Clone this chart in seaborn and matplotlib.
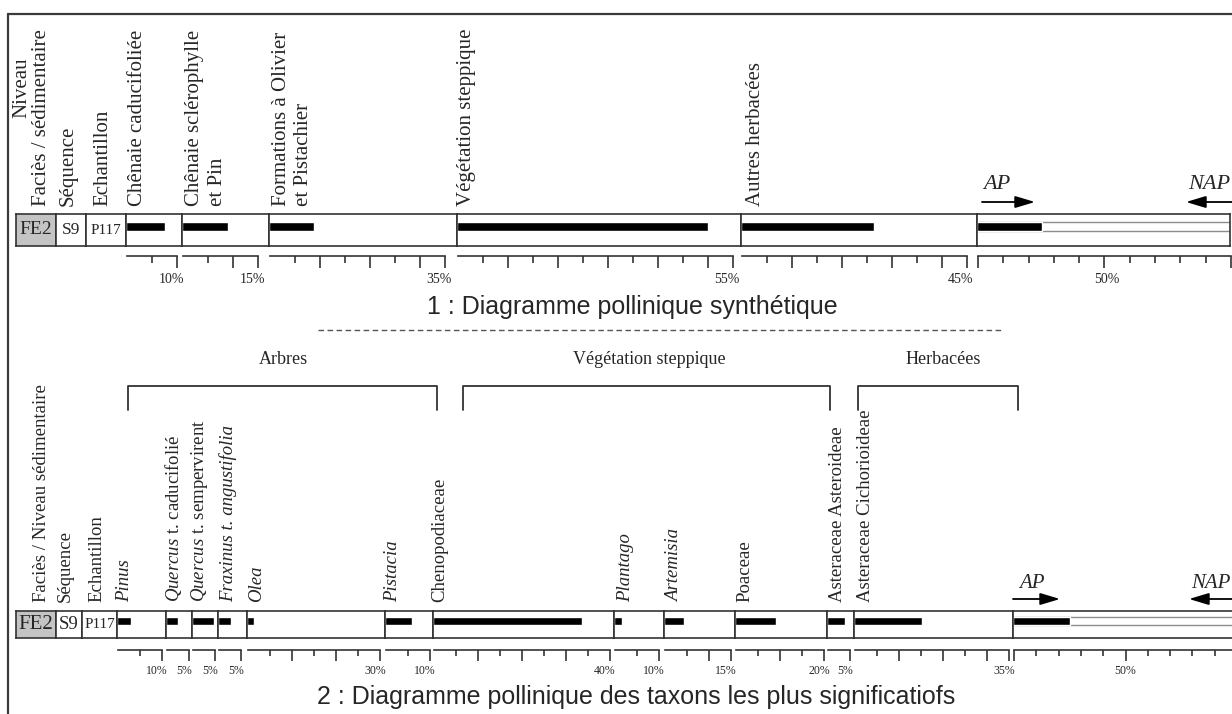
import numpy as np
import pandas as pd
import matplotlib
matplotlib.use("Agg")
import matplotlib.pyplot as plt
from matplotlib.lines import Line2D
from matplotlib.transforms import blended_transform_factory
import seaborn as sns

# ---------------- data ----------------
# 1 : synthetic pollen diagram (percentages)
synth_groups = ["Chênaie caducifoliée", "Chênaie sclérophylle\net Pin",
                "Formations à Olivier\net Pistachier", "Végétation steppique",
                "Autres herbacées"]
synth_values = [7.8, 9.2, 9.0, 50.2, 26.6]
synth_scale_max = [10, 15, 35, 55, 45]
synth_ap = 25.8

# 2 : most significant taxa (percentages)
taxa = ["Pinus", "Quercus t. caducifolié", "Quercus t. sempervirent",
        "Fraxinus t. angustifolia", "Olea", "Pistacia", "Chenopodiaceae",
        "Plantago", "Artemisia", "Poaceae", "Asteraceae Asteroideae",
        "Asteraceae Cichorioideae"]
taxa_values = [3.1, 2.7, 4.9, 3.0, 1.6, 6.1, 33.9, 1.8, 4.5, 9.3, 4.1, 15.5]
taxa_scale_max = [10, 5, 5, 5, 30, 10, 40, 10, 15, 20, 5, 35]
taxa_ap = 25.5

sample_cells = ["FE2", "S9", "P117"]
top_headers = ["Faciès / sédimentaire", "Séquence", "Echantillon"]
bottom_headers = ["Faciès / Niveau sédimentaire", "Séquence", "Echantillon"]
groups = ["Arbres", "Végétation steppique", "Herbacées"]

# ---------------- style ----------------
sns.set_theme(style="white")
plt.rcParams["font.family"] = ["Liberation Serif", "DejaVu Serif"]
plt.rcParams["mathtext.fontset"] = "custom"
plt.rcParams["mathtext.rm"] = "Liberation Serif"
plt.rcParams["mathtext.it"] = "Liberation Serif:italic"

LINE = "#333333"
W, H = 1232, 714
fig = plt.figure(figsize=(W / 100, H / 100), dpi=100)
fig.patch.set_facecolor("white")


def px_axes(x0, y0, x1, y1, z=2):
    ax = fig.add_axes([x0 / W, 1 - y1 / H, (x1 - x0) / W, (y1 - y0) / H])
    ax.set_zorder(z)
    return ax


base = px_axes(0, 0, W, H, z=0)
base.set_xlim(0, W)
base.set_ylim(H, 0)
base.axis("off")


def taxon_label(name):
    full_italic = {"Pinus", "Olea", "Pistacia", "Plantago", "Artemisia",
                   "Fraxinus t. angustifolia"}
    if name in full_italic:
        return name, "italic"
    if name.startswith("Quercus"):
        return r"$\mathit{Quercus}$" + name[len("Quercus"):], "normal"
    return name, "normal"


def cell(x0, x1, row, text, size, fc="white"):
    ax = px_axes(x0, row[0], x1, row[1])
    ax.set_facecolor(fc)
    ax.set_xticks([])
    ax.set_yticks([])
    for s in ax.spines.values():
        s.set_visible(True)
        s.set_color(LINE)
        s.set_linewidth(1.2)
    ax.text(0.5, 0.5, text, ha="center", va="center", fontsize=size,
            transform=ax.transAxes)


def bar_panel(x0, x1, row, vmax_axis, value, key, ylim, thick, total=None):
    ax = px_axes(x0, row[0], x1, row[1])
    if total is not None:
        sns.barplot(data=pd.DataFrame({"k": [key], "v": [total]}), x="v", y="k",
                    orient="h", color="white", edgecolor="#8c8c8c", linewidth=1.0,
                    width=thick, saturation=1, ax=ax)
    sns.barplot(data=pd.DataFrame({"k": [key], "v": [value]}), x="v", y="k",
                orient="h", color="black", width=thick, saturation=1, ax=ax)
    ax.set_xlim(0, vmax_axis)
    ax.set_ylim(*ylim)
    ax.set(xlabel="", ylabel="", xticks=[], yticks=[])
    ax.set_facecolor("white")
    for s in ax.spines.values():
        s.set_visible(True)
        s.set_color(LINE)
        s.set_linewidth(1.2)
    return ax


def ruler(x0, x1, y0, y1, vmax_axis, vmax, step, major_rule, label, label_at,
          label_dx_px, maj_len, min_len, fsize, start_tick=False):
    ax = px_axes(x0, y0, x1, y1)
    ax.set_xlim(0, vmax_axis)
    ax.set_ylim(0, 1)
    ax.patch.set_alpha(0)
    for s in ["left", "right", "bottom"]:
        ax.spines[s].set_visible(False)
    ax.spines["top"].set_visible(True)
    ax.spines["top"].set_color(LINE)
    ax.spines["top"].set_linewidth(1.2)
    ax.spines["top"].set_bounds(0, vmax)
    first = 0 if start_tick else step
    ticks = np.arange(first, vmax + step / 2, step)
    major = [t for t in ticks if major_rule(t) or np.isclose(t, vmax)]
    minor = [t for t in ticks if t not in major]
    ax.set_xticks(major)
    ax.set_xticks(minor, minor=True)
    ax.set_yticks([])
    ax.tick_params(axis="x", which="both", top=True, bottom=False,
                   labeltop=False, labelbottom=False, direction="in",
                   color=LINE, width=1.2)
    ax.tick_params(axis="x", which="major", length=maj_len)
    ax.tick_params(axis="x", which="minor", length=min_len)
    px_per_unit = (x1 - x0) / vmax_axis
    tr = blended_transform_factory(ax.transData, ax.transAxes)
    ax.text(label_at + label_dx_px / px_per_unit, 0, label, ha="center", va="top",
            fontsize=fsize, transform=tr)


def header(x, y, text, size, style="normal"):
    base.text(x, y, text, rotation=90, ha="center", va="bottom", fontsize=size,
              style=style)


# ---------------- frame ----------------
base.add_line(Line2D([8, W + 5], [14, 14], color="#3a3a3a", lw=1.6))
base.add_line(Line2D([8, 8], [14, H + 5], color="#3a3a3a", lw=1.6))

# ================= 1 : synthetic diagram =================
row1 = (214, 246)
cell_x1 = [16, 56, 86, 126]
cell_sizes1 = [14, 12.5, 11]
for i, t in enumerate(sample_cells):
    cell(cell_x1[i], cell_x1[i + 1], row1, t, cell_sizes1[i],
         "#c4c4c4" if i == 0 else "white")

header(22, 118, "Niveau", 15)
for x, t in zip([42, 68, 103], top_headers):
    header(x, 206, t, 15)

top_bounds = [126, 182, 269, 457, 741, 977]
top_label_x = [137, 195, 281, 467, 755]
s1 = 5.0  # px per percent
ylim1 = (0.61, -0.39)
for i, (g, v, m) in enumerate(zip(synth_groups, synth_values, synth_scale_max)):
    x0, x1 = top_bounds[i], top_bounds[i + 1]
    bar_panel(x0, x1, row1, (x1 - x0) / s1, v, g, ylim1, 0.28)
    ruler(x0 + 1, x1 + 1, 256, 273, (x1 - x0) / s1, m, 5,
          lambda t: t % 10 == 0, f"{m}%", m, -6, 8.6, 5.0, 10)
    for j, line in enumerate(g.split("\n")):
        header(top_label_x[i] + 23 * j, 206, line, 15)

# AP / NAP panel
bar_panel(977, 1230, row1, 100, synth_ap, "AP", ylim1, 0.28, total=100)
ruler(978, 1231, 256, 273, 100, 100, 10, lambda t: t % 50 == 0, "50%", 50, 2,
      8.6, 5.0, 10, start_tick=True)
base.text(997, 189, "AP", ha="center", va="baseline", fontsize=16, style="italic")
base.text(1230, 189, "NAP", ha="right", va="baseline", fontsize=16, style="italic")
arrow = dict(arrowstyle="-|>,head_length=1.0,head_width=0.3", color="black",
             lw=1.3, shrinkA=0, shrinkB=0)
base.annotate("", xy=(1035, 202), xytext=(982, 202), arrowprops=arrow,
              annotation_clip=False)
base.annotate("", xy=(1186, 202), xytext=(1245, 202), arrowprops=arrow,
              annotation_clip=False)

base.text(632, 307, "1 : Diagramme pollinique synthétique", ha="center",
          va="center", fontsize=18, family="Liberation Sans")
base.add_line(Line2D([318, 1002], [330, 330], color="#555555", lw=1.0,
                     dashes=(4, 2.5)))

# ================= 2 : taxa diagram =================
row2 = (611, 638)
cell_x2 = [16, 56, 82, 117]
cell_sizes2 = [15, 13.5, 11]
for i, t in enumerate(sample_cells):
    cell(cell_x2[i], cell_x2[i + 1], row2, t, cell_sizes2[i],
         "#c4c4c4" if i == 0 else "white")

for x, t in zip([42, 65, 97], bottom_headers):
    header(x, 602, t, 13.5)

# group brackets
bracket_spans = [(128, 437), (463, 830), (858, 1018)]
bracket_label_x = [283, 649, 943]
for (a, b), lx, g in zip(bracket_spans, bracket_label_x, groups):
    base.add_line(Line2D([a, a, b, b], [410, 386, 386, 410], color=LINE, lw=1.3))
    base.text(lx, 360, g, ha="center", va="center", fontsize=13)

bottom_bounds = [117, 166, 192, 218, 247, 385, 433, 614, 664, 735, 827, 854, 1013]
bottom_label_x = [125, 173, 200, 228, 257, 393, 440, 626, 675, 745, 838, 865]
s2 = 4.4
ylim2 = (0.63, -0.37)
for i, (t, v, m) in enumerate(zip(taxa, taxa_values, taxa_scale_max)):
    x0, x1 = bottom_bounds[i], bottom_bounds[i + 1]
    bar_panel(x0, x1, row2, (x1 - x0) / s2, v, f"t{i}", ylim2, 0.30)
    ruler(x0 + 1, x1 + 1, 650, 665, (x1 - x0) / s2, m, 5,
          lambda q: q % 10 == 0, f"{m}%", m, -5, 7.9, 4.3, 8.5)
    lab, st = taxon_label(t)
    header(bottom_label_x[i], 602, lab, 13.5, st)

bar_panel(1013, 1236, row2, 100, taxa_ap, "AP", ylim2, 0.30, total=100)
ruler(1014, 1237, 650, 665, 100, 100, 10, lambda q: q % 50 == 0, "50%", 50, 0,
      7.9, 4.3, 8.5, start_tick=True)
base.text(1032, 588, "AP", ha="center", va="baseline", fontsize=15, style="italic")
base.text(1231, 588, "NAP", ha="right", va="baseline", fontsize=15, style="italic")
base.annotate("", xy=(1060, 599), xytext=(1013, 599), arrowprops=arrow,
              annotation_clip=False)
base.annotate("", xy=(1189, 599), xytext=(1245, 599), arrowprops=arrow,
              annotation_clip=False)

base.text(636, 697, "2 : Diagramme pollinique des taxons les plus significatiofs",
          ha="center", va="center", fontsize=18, family="Liberation Sans")

fig.savefig("out.png", dpi=100, facecolor="white")
